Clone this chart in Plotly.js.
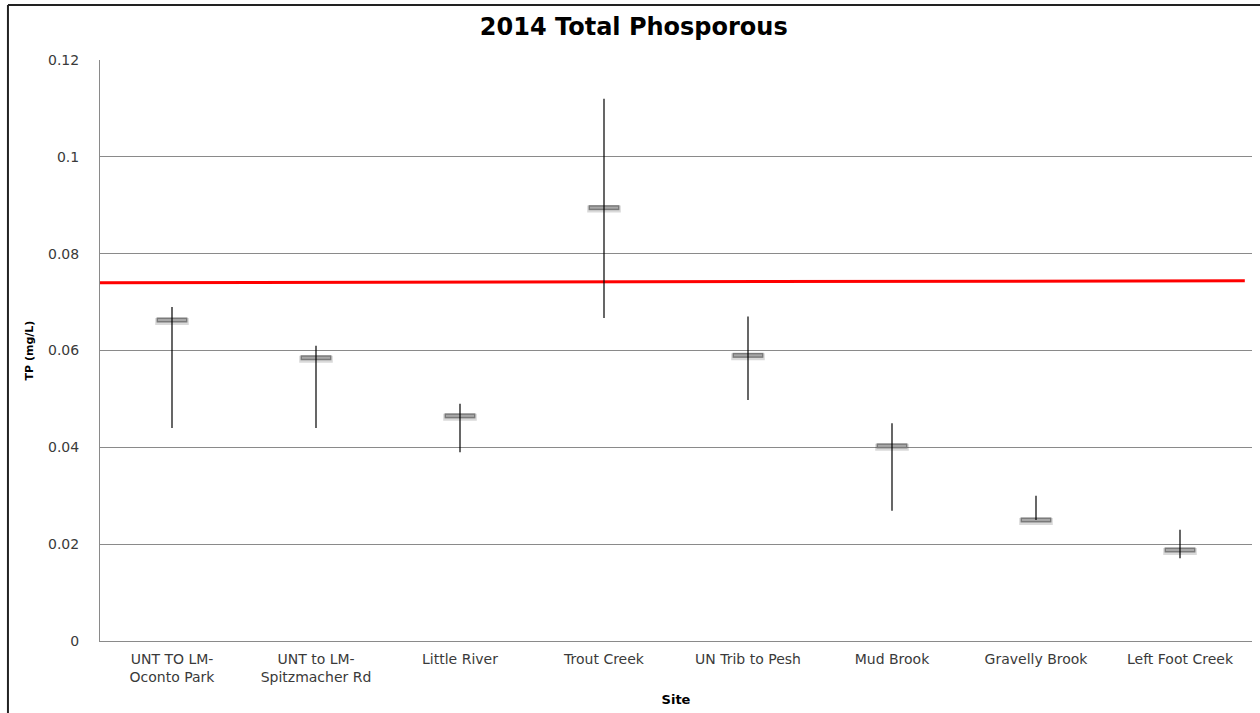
<!DOCTYPE html>
<html>
<head>
<meta charset="utf-8">
<script src="https://cdn.plot.ly/plotly-3.0.1.min.js"></script>
<style>
  body { margin: 0; background: #fff; }
  #chart { width: 1260px; height: 713px; }
</style>
</head>
<body>
<div id="chart"></div>
<script>
// site names, as on the x axis
var sites = [
    'UNT TO LM-<br>Oconto Park',
    'UNT to LM-<br>Spitzmacher Rd',
    'Little River',
    'Trout Creek',
    'UN Trib to Pesh',
    'Mud Brook',
    'Gravelly Brook',
    'Left Foot Creek'
];

// mean, max and min TP (mg/L) per site
var tpMean = [0.0663, 0.0585, 0.0465, 0.0895, 0.0590, 0.0403, 0.0250, 0.0188];
var tpMax  = [0.0690, 0.0610, 0.0490, 0.1120, 0.0670, 0.0450, 0.0300, 0.0230];
var tpMin  = [0.0440, 0.0440, 0.0390, 0.0667, 0.0498, 0.0269, 0.0250, 0.0171];

// red reference line
var limitX = [-0.5, 7.45];
var limitY = [0.0740, 0.0744];

var siteIdx = sites.map(function (s, i) { return i; });
var upper = tpMax.map(function (v, i) { return v - tpMean[i]; });
var lower = tpMin.map(function (v, i) { return tpMean[i] - v; });

var limitLine = {
    x: limitX,
    y: limitY,
    mode: 'lines',
    type: 'scatter',
    line: { color: '#ff0000', width: 3 },
    hoverinfo: 'skip'
};

// soft shadow under the mean dashes
var shadow = {
    x: siteIdx,
    y: tpMean.map(function (v) { return v - 0.0003; }),
    mode: 'markers',
    type: 'scatter',
    marker: {
        symbol: 'line-ew-open',
        size: 24,
        color: 'rgba(0,0,0,0.15)',
        line: { width: 7 }
    },
    hoverinfo: 'skip'
};

// gray dashes for the mean
var means = {
    x: siteIdx,
    y: tpMean,
    mode: 'markers',
    type: 'scatter',
    marker: {
        symbol: 'line-ew-open',
        size: 22,
        color: '#7a7a7a',
        line: { width: 5 }
    }
};

// lighter core of the dashes
var meansCore = {
    x: siteIdx,
    y: tpMean,
    mode: 'markers',
    type: 'scatter',
    marker: {
        symbol: 'line-ew-open',
        size: 20,
        color: '#a8a8a8',
        line: { width: 2 }
    },
    hoverinfo: 'skip'
};

// high-low lines drawn on top of the dashes
var ranges = {
    x: siteIdx,
    y: tpMean,
    mode: 'markers',
    type: 'scatter',
    marker: { size: 1, opacity: 0 },
    error_y: {
        type: 'data',
        symmetric: false,
        array: upper,
        arrayminus: lower,
        width: 0,
        thickness: 1.2,
        color: '#000'
    },
    hoverinfo: 'skip'
};

var layout = {
    width: 1260,
    height: 713,
    margin: { l: 100, r: 8, t: 60, b: 72 },
    paper_bgcolor: '#fff',
    plot_bgcolor: '#fff',
    showlegend: false,
    font: { family: 'DejaVu Sans, Verdana, sans-serif', size: 12, color: '#3a3a3a' },
    title: {
        text: '<b>2014 Total Phosporous</b>',
        font: { family: 'DejaVu Sans, sans-serif', size: 24, color: '#000' },
        x: 0.503,
        xanchor: 'center',
        y: 0.963,
        yanchor: 'middle'
    },
    xaxis: {
        range: [-0.5, 7.5],
        tickvals: siteIdx,
        ticktext: sites,
        showgrid: false,
        zeroline: false,
        showline: true,
        linecolor: '#8a8a8a',
        linewidth: 1,
        ticks: '',
        ticklabelstandoff: 5,
        tickfont: { size: 14 },
        fixedrange: true,
        title: {
            text: '<b>Site</b>',
            font: { size: 13, color: '#000' },
            standoff: 10
        }
    },
    yaxis: {
        range: [0, 0.12],
        dtick: 0.02,
        showgrid: true,
        gridcolor: '#8a8a8a',
        gridwidth: 1,
        zeroline: false,
        showline: true,
        linecolor: '#8a8a8a',
        linewidth: 1,
        ticks: '',
        ticklabelstandoff: 17,
        tickfont: { size: 14 },
        fixedrange: true,
        title: {
            text: '<b>TP (mg/L)</b>',
            font: { size: 11, color: '#000' },
            standoff: 12
        }
    },
    // outer frame of the picture
    shapes: [
        { type: 'line', xref: 'paper', yref: 'paper', x0: -0.0799, x1: -0.0799, y0: -0.13, y1: 1.0947,
          line: { color: '#222', width: 2 } },
        { type: 'line', xref: 'paper', yref: 'paper', x0: -0.0799, x1: 1.01, y0: 1.0947, y1: 1.0947,
          line: { color: '#222', width: 2 } }
    ]
};

Plotly.newPlot('chart', [limitLine, shadow, means, meansCore, ranges], layout, { displayModeBar: false, staticPlot: true });
</script>
</body>
</html>
